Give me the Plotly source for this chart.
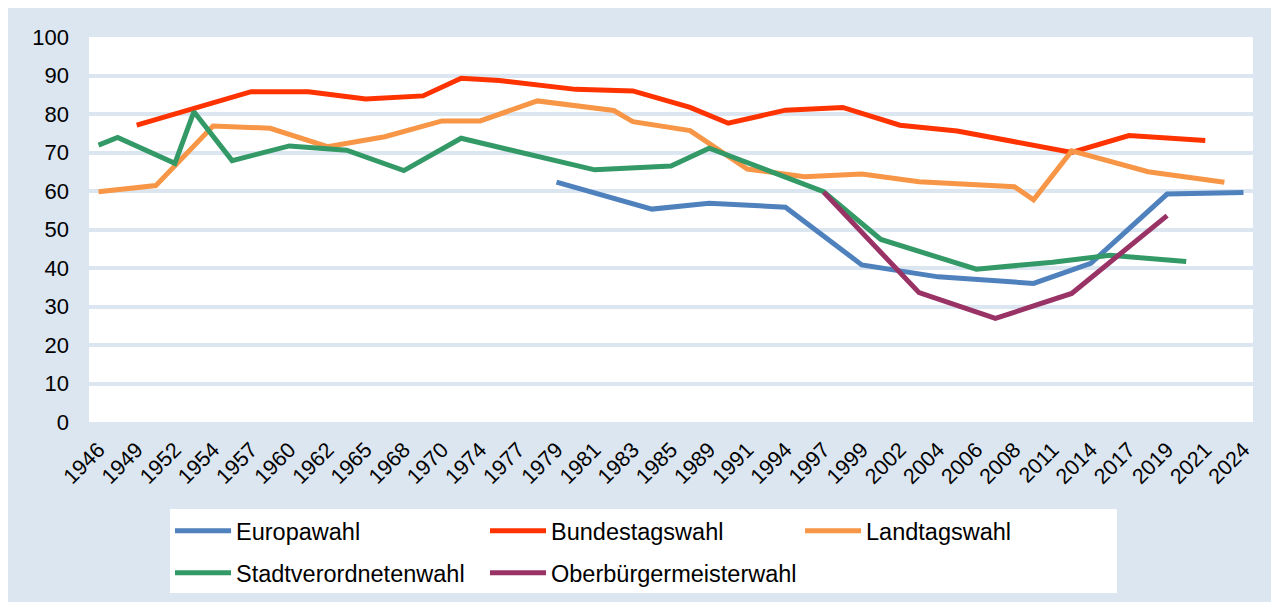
import plotly.graph_objects as go

# All election dates on the category axis (only every second one is labelled)
categories = ["1946", "1948", "1949", "1950", "1952", "1953", "1954", "1956", "1957", "1958",
              "1960", "1961", "1962", "1964", "1965", "1966", "1968", "1969", "1970", "1972",
              "1974", "1976", "1977", "1978", "1979", "1980", "1981", "1982", "1983", "1984",
              "1985", "1987", "1989", "1990", "1991", "1993", "1994", "1995", "1997", "1998",
              "1999", "2001", "2002", "2003", "2004", "2005", "2006", "2007", "2008", "2009",
              "2011", "2013", "2014", "2016", "2017", "2018", "2019", "2021 (März)", "2021", "2023",
              "2024"]
tick_labels = categories[::2]

europa_years = ["1979", "1984", "1989", "1994", "1999", "2004", "2009", "2014", "2019", "2024"]
europa_values = [62.3, 55.3, 56.8, 55.8, 40.8, 37.7, 36.0, 41.2, 59.2, 59.6]

bundestag_years = ["1949", "1953", "1957", "1961", "1965", "1969", "1972", "1976", "1980", "1983",
                   "1987", "1990", "1994", "1998", "2002", "2005", "2009", "2013", "2017", "2021"]
bundestag_values = [77.1, 81.5, 85.8, 85.8, 83.9, 84.7, 89.3, 88.7, 86.4, 86.0,
                    81.7, 77.6, 81.0, 81.7, 77.1, 75.6, 72.0, 70.0, 74.4, 73.1]

landtag_years = ["1946", "1950", "1954", "1958", "1962", "1966", "1970", "1974", "1978", "1982",
                 "1983", "1987", "1991", "1995", "1999", "2003", "2008", "2009", "2013", "2018",
                 "2023"]
landtag_values = [59.8, 61.4, 76.9, 76.3, 71.5, 74.1, 78.2, 78.2, 83.4, 80.9,
                  78.0, 75.7, 65.7, 63.7, 64.4, 62.4, 61.1, 57.7, 70.4, 65.0,
                  62.3]

stadt_years = ["1946", "1948", "1952", "1953", "1956", "1960", "1964", "1968", "1972", "1977",
               "1981", "1985", "1989", "1993", "1997", "2001", "2006", "2011", "2016", "2021 (März)"]
stadt_values = [71.9, 73.9, 67.2, 80.6, 67.9, 71.7, 70.6, 65.3, 73.7, 70.2,
                65.5, 66.5, 71.1, 65.5, 59.8, 47.4, 39.7, 41.5, 43.3, 41.7]

ob_years = ["1997", "2003", "2007", "2013", "2019"]
ob_values = [59.7, 33.6, 26.9, 33.4, 53.6]

# name, x, y, colour, legend row
series = [
    ("Europawahl", europa_years, europa_values, "#4F81BD", "legend"),
    ("Bundestagswahl", bundestag_years, bundestag_values, "#FF3300", "legend"),
    ("Landtagswahl", landtag_years, landtag_values, "#F79646", "legend"),
    ("Stadtverordnetenwahl", stadt_years, stadt_values, "#339966", "legend2"),
    ("Oberbürgermeisterwahl", ob_years, ob_values, "#993366", "legend2"),
]

BG = "#DCE6F1"
FONT = "Liberation Sans, Arial, sans-serif"

# plot area in figure pixels
L, R, T, B = 81, 1245, 29, 414
W, H = 1279, 602
PW, PH = R - L, B - T


def px_x(p):
    return (p - L) / PW


def px_y(p):
    return (B - p) / PH


fig = go.Figure()
for name, xs, ys, color, leg in series:
    fig.add_trace(go.Scatter(
        x=xs, y=ys, name=name, mode="lines", connectgaps=True,
        line=dict(color=color, width=5), legend=leg,
    ))

legend_common = dict(
    orientation="h", xanchor="left", yanchor="middle",
    bgcolor="rgba(0,0,0,0)", font=dict(size=23.5, family=FONT, color="black"),
    entrywidth=244, entrywidthmode="pixels", itemwidth=56,
    traceorder="normal",
)

fig.update_layout(
    width=W, height=H,
    paper_bgcolor=BG, plot_bgcolor="white",
    margin=dict(l=L, r=W - R, t=T, b=H - B),
    font=dict(family=FONT, color="black"),
    showlegend=True,
    legend=dict(x=px_x(162), y=px_y(523), **legend_common),
    legend2=dict(x=px_x(162), y=px_y(565), **legend_common),
    shapes=[dict(
        type="rect", xref="paper", yref="paper",
        x0=px_x(162), x1=px_x(1109), y0=px_y(585), y1=px_y(501),
        fillcolor="white", line=dict(width=0), layer="above",
    )],
)
fig.update_xaxes(
    type="category", categoryorder="array", categoryarray=categories,
    range=[-0.5, len(categories) - 0.5],
    tickmode="array", tickvals=tick_labels, ticktext=tick_labels,
    tickangle=-45, tickfont=dict(size=21.5, family=FONT, color="black"),
    showgrid=False, showline=False, zeroline=False, ticks="", ticklabelstandoff=10,
)
fig.update_yaxes(
    range=[0, 100], tickmode="linear", tick0=0, dtick=10,
    tickfont=dict(size=22, family=FONT, color="black"),
    showgrid=True, gridcolor=BG, gridwidth=4,
    zeroline=False, showline=False, ticks="", ticklabelstandoff=19,
)

fig.write_html("out.html")
